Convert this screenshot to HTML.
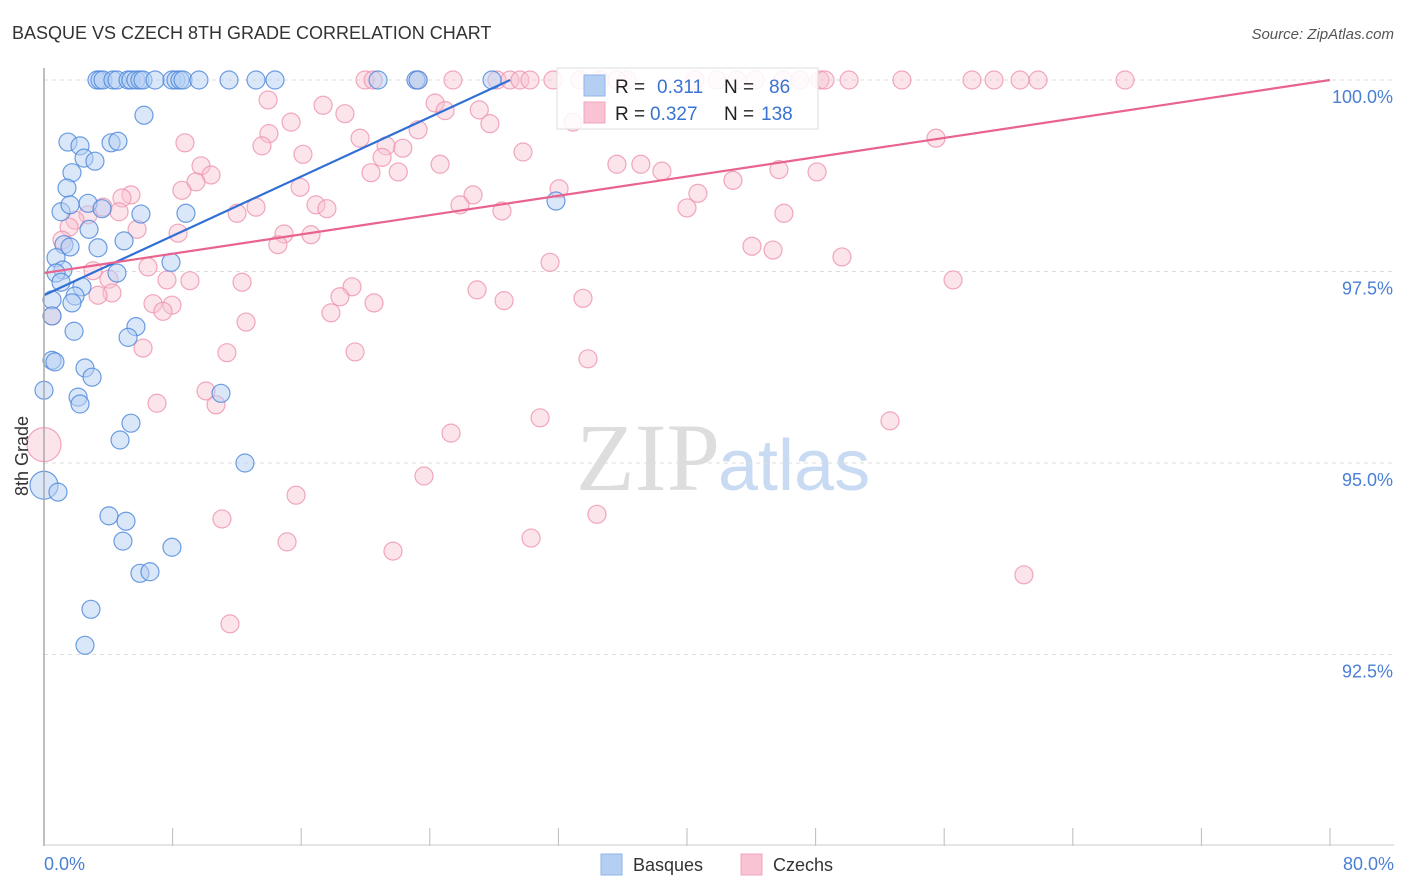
<!DOCTYPE html>
<html><head><meta charset="utf-8"><style>
body{margin:0;background:#fff;font-family:"Liberation Sans",sans-serif}
svg{display:block}
</style></head><body>
<svg id="chart" width="1406" height="892" xmlns="http://www.w3.org/2000/svg">
<text x="12" y="39" font-size="18" fill="#333">BASQUE VS CZECH 8TH GRADE CORRELATION CHART</text>
<text x="1394" y="39" font-size="15" fill="#555" text-anchor="end" font-style="italic">Source: ZipAtlas.com</text>
<text x="720" y="490" font-size="96" fill="#ddd" text-anchor="end" font-family="Liberation Serif">ZIP</text>
<text x="718" y="490" font-size="72" fill="#c9daf3">atlas</text>
<g id="grid"></g>
<g id="pts"></g>
<g id="lines"></g>
<line x1="44" y1="68" x2="44" y2="846" stroke="#aaa" stroke-width="1.5"/>
<line x1="44" y1="845" x2="1394" y2="845" stroke="#ccc" stroke-width="1"/>
<text x="28" y="456" font-size="18" fill="#333" text-anchor="middle" transform="rotate(-90 28 456)">8th Grade</text>
<text x="44" y="870" font-size="18" fill="#4a7fd4">0.0%</text>
<text x="1394" y="870" font-size="18" fill="#4a7fd4" text-anchor="end">80.0%</text>
<g>
<rect x="557" y="68" width="261" height="61" fill="#fff" fill-opacity="0.85" stroke="#ddd"/>
<rect x="584" y="75" width="21" height="21" fill="#b5cff3" stroke="#8fb3ea"/>
<rect x="584" y="102" width="21" height="21" fill="#f9c3d3" stroke="#f0a6bd"/>
<text x="615" y="93" font-size="19" fill="#222">R = </text><text x="657" y="93" font-size="19" fill="#3a73d0">0.311</text>
<text x="724" y="93" font-size="19" fill="#222">N = </text><text x="769" y="93" font-size="19" fill="#3a73d0">86</text>
<text x="615" y="120" font-size="19" fill="#222">R = </text><text x="650" y="120" font-size="19" fill="#3a73d0">0.327</text>
<text x="724" y="120" font-size="19" fill="#222">N = </text><text x="761" y="120" font-size="19" fill="#3a73d0">138</text>
</g>
<g>
<rect x="601" y="854" width="21" height="21" fill="#b5cff3" stroke="#8fb3ea"/>
<text x="633" y="871" font-size="18" fill="#333">Basques</text>
<rect x="741" y="854" width="21" height="21" fill="#f9c3d3" stroke="#f0a6bd"/>
<text x="773" y="871" font-size="18" fill="#333">Czechs</text>
</g>
</svg>
<script>
const yTicks=[100,97.5,95,92.5];
const yTickLabels=["100.0%","97.5%","95.0%","92.5%"];
const xTicks=[0,8,16,24,32,40,48,56,64,72,80];
const basqueX=[3.30,3.48,3.67,4.29,4.54,5.23,5.41,5.72,5.97,6.16,6.91,7.96,8.21,8.46,8.65,9.64,11.51,13.19,14.37,20.78,23.14,23.27,27.87,
6.22,1.49,2.24,4.17,4.60,2.49,3.17,1.74,1.43,2.74,1.06,1.62,3.61,6.03,8.83,2.80,1.24,1.62,3.36,4.98,7.90,0.75,1.18,0.75,4.54,1.06,2.36,1.93,1.74,0.50,0.50,5.72,5.23,1.87,0.50,0.68,2.55,2.99,0,2.12,2.24,5.41,4.73,11.01,12.50,0,0.87,4.04,5.10,4.91,7.96,5.97,6.59,2.92,2.55,31.85];
const basqueY=[100,100,100,100,100,100,100,100,100,100,100,100,100,100,100,100,100,100,100,100,100,100,100,
99.54,99.19,99.14,99.18,99.20,98.98,98.94,98.79,98.59,98.39,98.28,98.37,98.32,98.25,98.26,98.05,97.85,97.82,97.81,97.90,97.62,97.68,97.52,97.48,97.48,97.36,97.30,97.18,97.09,97.13,96.92,96.78,96.64,96.72,96.34,96.32,96.24,96.12,95.95,95.86,95.77,95.52,95.30,95.91,95.00,94.71,94.62,94.31,94.24,93.98,93.90,93.56,93.58,93.09,92.62,98.42];
const czechX=[19.97,20.47,23.27,25.44,28.18,28.99,29.61,30.23,31.66,33.34,34.58,35.64,36.26,40.49,41.87,43.11,44.23,45.97,47.03,48.27,48.58,50.08,53.37,57.73,59.10,60.72,61.84,67.25,
13.94,17.36,24.33,27.08,24.95,18.72,15.37,27.74,32.91,13.99,23.27,19.66,8.77,13.56,21.28,22.32,29.80,16.11,21.03,24.64,35.64,37.13,9.77,38.44,20.34,22.04,45.72,48.09,10.39,9.45,42.86,55.49,15.93,8.58,32.04,5.41,4.85,26.69,40.68,16.92,17.60,13.19,3.67,25.88,28.49,40.00,46.03,12.01,4.67,2.74,1.93,1.56,5.79,8.34,14.93,16.61,14.55,44.04,45.35,49.64,31.48,1.12,6.47,3.05,7.65,9.08,12.32,4.04,56.55,19.16,26.94,18.41,4.23,3.36,33.53,28.62,20.53,6.78,7.96,7.40,17.85,12.57,0.50,6.16,11.38,19.35,33.84,10.08,10.70,7.03,30.86,52.63,25.32,0,23.64,15.68,34.40,11.07,15.12,30.30,21.71,60.96,11.57];
const czechY=[100,100,100,100,100,100,100,100,100,100,100,100,100,100,100,100,100,100,100,100,100,100,100,100,100,100,100,100,
99.74,99.67,99.70,99.61,99.60,99.56,99.45,99.43,99.45,99.30,99.35,99.24,99.18,99.14,99.14,99.11,99.06,99.03,98.99,98.90,98.90,98.90,98.88,98.81,98.79,98.80,98.83,98.80,98.76,98.67,98.69,99.24,98.60,98.56,98.58,98.50,98.46,98.50,98.52,98.37,98.32,98.34,98.34,98.37,98.29,98.33,98.26,98.26,98.28,98.24,98.17,98.08,98.05,98.00,97.99,97.98,97.85,97.83,97.78,97.69,97.62,97.91,97.56,97.51,97.39,97.38,97.36,97.40,97.39,97.30,97.26,97.17,97.22,97.19,97.15,97.12,97.09,97.08,97.06,96.98,96.96,96.84,96.92,96.50,96.44,96.45,96.36,95.94,95.76,95.78,95.59,95.55,95.39,95.24,94.83,94.58,94.33,94.27,93.97,94.02,93.85,93.54,92.90];
const trendBasque=[97.19,29.0,100]; // y at x=0, end x, y at end x
const trendCzech=[97.48,80,100];
const sx=v=>44+v*16.075;
const sy=v=>80+(100-v)*76.6;
const NS="http://www.w3.org/2000/svg";
function mk(tag,attrs,parent){const e=document.createElementNS(NS,tag);for(const k in attrs)e.setAttribute(k,attrs[k]);parent.appendChild(e);return e;}
const grid=document.getElementById('grid');
yTicks.forEach((t,i)=>{
 const l=mk('line',{x1:44,x2:1394,y1:sy(t),y2:sy(t),stroke:'#ddd','stroke-dasharray':'4 4'},grid);
 
 
 const tx=mk('text',{x:1393,y:sy(t)+23,'font-size':18,fill:'#4a7fd4','text-anchor':'end'},grid);
 tx.textContent=yTickLabels[i];
 
 
});
xTicks.forEach(t=>{
 const l=mk('line',{x1:sx(t),x2:sx(t),y1:828,y2:846,stroke:'#bbb'},grid);
 
 
});
const pts=document.getElementById('pts');
czechX.forEach((x,i)=>{
 const big=(x===0&&czechY[i]<96);
 const c=mk('circle',{cx:sx(x),cy:sy(czechY[i]),r:big?17:9,fill:'#f9c3d3','fill-opacity':0.45,stroke:'#ee92ae','stroke-opacity':0.8,'stroke-width':1.2},pts);
 
 
});
basqueX.forEach((x,i)=>{
 const big=(x===0&&basqueY[i]<95);
 const c=mk('circle',{cx:sx(x),cy:sy(basqueY[i]),r:big?14:9,fill:'#b5cff3','fill-opacity':0.5,stroke:'#4a86db','stroke-opacity':0.8,'stroke-width':1.2},pts);
 
 
});
const lines=document.getElementById('lines');
const lb=mk('line',{x1:sx(0),y1:sy(trendBasque[0]),x2:sx(trendBasque[1]),y2:sy(trendBasque[2]),stroke:'#2f6fd6','stroke-width':2.2},lines);


const lc=mk('line',{x1:sx(0),y1:sy(trendCzech[0]),x2:sx(trendCzech[1]),y2:sy(trendCzech[2]),stroke:'#e8638e','stroke-width':2.2},lines);


</script>
</body></html>
